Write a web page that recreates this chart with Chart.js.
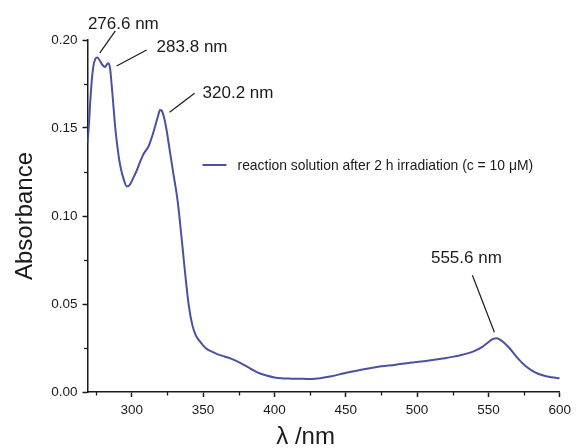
<!DOCTYPE html>
<html>
<head>
<meta charset="utf-8">
<script src="https://cdn.jsdelivr.net/npm/chart.js@4/dist/chart.umd.min.js"></script>
<style>
  html, body { margin: 0; padding: 0; background: #fff; }
  #wrap { width: 576px; height: 448px; }
</style>
</head>
<body>
<div id="wrap"><canvas id="c" width="576" height="448"></canvas></div>
<script>
// ---- data ----
const wavelengths = [269, 270, 271.5, 273, 274.5, 275.8, 277.5, 279.5, 281.4, 282.6, 283.6, 284.8, 286.2, 288.6, 290.5, 292.1, 294.5, 296.6, 298.5, 301, 303.6, 306, 308.5, 311.7, 314, 316.4, 318.5, 319.8, 321, 322.5, 324.4, 326.5, 329.1, 332.1, 333.5, 336, 338, 340, 342.5, 345, 347.5, 350, 352.5, 356, 360, 365, 370, 375, 380, 385, 390, 395, 400, 405, 410, 415, 420, 426, 432, 440, 449, 460, 472, 485, 495, 505, 518, 530, 540, 546, 550, 553, 555.6, 558, 561, 565, 570, 576, 582, 588, 594, 600];
const absorbance = [0.1415, 0.152, 0.172, 0.1845, 0.1893, 0.190, 0.1885, 0.1858, 0.1847, 0.1862, 0.1868, 0.184, 0.172, 0.149, 0.136, 0.128, 0.1205, 0.1167, 0.1175, 0.1215, 0.126, 0.131, 0.1355, 0.1395, 0.1445, 0.151, 0.157, 0.1602, 0.1598, 0.1565, 0.149, 0.138, 0.1245, 0.109, 0.099, 0.079, 0.063, 0.049, 0.038, 0.032, 0.029, 0.0265, 0.0245, 0.023, 0.0215, 0.0202, 0.0188, 0.017, 0.0148, 0.0125, 0.0105, 0.0092, 0.0083, 0.0078, 0.0076, 0.0075, 0.0075, 0.0074, 0.0078, 0.0089, 0.0107, 0.0125, 0.0142, 0.0155, 0.0166, 0.0175, 0.019, 0.0208, 0.0232, 0.0258, 0.0283, 0.0300, 0.0305, 0.0298, 0.028, 0.0247, 0.0197, 0.0148, 0.0115, 0.0095, 0.0084, 0.0078];
const peakWavelengths = [276.6, 283.8, 320.2, 555.6];
const peakLabels = ['276.6 nm', '283.8 nm', '320.2 nm', '555.6 nm'];
const seriesLabel = 'reaction solution after 2 h irradiation (c = 10 \u03bcM)';
const xTitle = '\u03bb /nm';
const yTitle = 'Absorbance';

const FONT = '"Liberation Sans", Arial, sans-serif';
const INK = '#1a1a1a';
const LINE = '#4b50a3';

function interp(x) {
  for (let i = 0; i < wavelengths.length - 1; i++) {
    if (x >= wavelengths[i] && x <= wavelengths[i + 1]) {
      const t = (x - wavelengths[i]) / (wavelengths[i + 1] - wavelengths[i]);
      return absorbance[i] + t * (absorbance[i + 1] - absorbance[i]);
    }
  }
  return absorbance[absorbance.length - 1];
}

// annotation layout: [lineStartDx, lineStartDy, lineEndDx, lineEndDy, textX-offset, textY-offset, align]
const annLayout = [
  [1.5, -6, 17, -28, 25, -35, 'center'],
  [8, 2, 38, -14, 48, -17, 'left'],
  [9, 2, 34, -17, 42, -17, 'left'],
  [-2, -6, -24, -63, -30, -80, 'center']
];

const decor = {
  id: 'decor',
  afterDatasetsDraw(chart) {
    const ctx = chart.ctx;
    const xs = chart.scales.x, ys = chart.scales.y;
    const ca = chart.chartArea;
    ctx.save();
    // minor ticks
    ctx.strokeStyle = INK;
    ctx.lineWidth = 1.3;
    const bottom = ys.getPixelForValue(0);
    const left = xs.getPixelForValue(xs.min);
    xs.ticks.forEach(t => {
      if (Math.round(t.value) % 50 !== 0) {
        const px = Math.round(xs.getPixelForValue(t.value)) + 0.5;
        ctx.beginPath(); ctx.moveTo(px, bottom); ctx.lineTo(px, bottom + 3.5); ctx.stroke();
      }
    });
    ys.ticks.forEach(t => {
      if (Math.round(t.value * 1000) % 50 !== 0) {
        const py = Math.round(ys.getPixelForValue(t.value)) + 0.5;
        ctx.beginPath(); ctx.moveTo(left, py); ctx.lineTo(left - 3.5, py); ctx.stroke();
      }
    });
    // peak annotations
    ctx.font = '17px ' + FONT;
    ctx.fillStyle = INK;
    ctx.textBaseline = 'middle';
    ctx.lineWidth = 1.2;
    peakWavelengths.forEach((w, i) => {
      const px = xs.getPixelForValue(w), py = ys.getPixelForValue(interp(w));
      const L = annLayout[i];
      ctx.beginPath();
      ctx.moveTo(px + L[0], py + L[1]);
      ctx.lineTo(px + L[2], py + L[3]);
      ctx.stroke();
      ctx.textAlign = L[6];
      ctx.fillText(peakLabels[i], px + L[4], py + L[5]);
    });
    // legend
    const ds = chart.data.datasets[0];
    const lx = ca.left + 115, ly = ca.top + 125;
    ctx.strokeStyle = ds.borderColor;
    ctx.lineWidth = 2;
    ctx.beginPath(); ctx.moveTo(lx, ly); ctx.lineTo(lx + 24, ly); ctx.stroke();
    ctx.font = '13.9px ' + FONT;
    ctx.textAlign = 'left';
    ctx.fillStyle = INK;
    ctx.fillText(ds.label, lx + 35, ly + 1);
    // x axis title (slightly left of centre, as in the reference)
    ctx.font = '24px ' + FONT;
    ctx.textAlign = 'center';
    ctx.textBaseline = 'alphabetic';
    ctx.fillText(xTitle, (ca.left + ca.right) / 2 - 18, chart.height - 4);
    ctx.restore();
  }
};

new Chart(document.getElementById('c'), {
  type: 'line',
  data: {
    datasets: [{
      label: seriesLabel,
      data: wavelengths.map((w, i) => ({ x: w, y: absorbance[i] })),
      borderColor: LINE,
      borderWidth: 2,
      pointRadius: 0,
      fill: false,
      cubicInterpolationMode: 'monotone'
    }]
  },
  options: {
    responsive: false,
    animation: false,
    devicePixelRatio: 1,
    layout: { padding: { left: 0, top: 40, right: 12, bottom: 0 } },
    plugins: { legend: { display: false }, tooltip: { enabled: false } },
    scales: {
      x: {
        type: 'linear',
        min: 269, max: 600,
        afterFit(s) { s.height = 56; },
        afterBuildTicks(s) {
          const t = [];
          for (let v = 275; v <= 600; v += 25) t.push({ value: v });
          s.ticks = t;
        },
        border: { display: true, color: INK, width: 1.5 },
        grid: {
          drawOnChartArea: false, drawTicks: true, tickLength: 5, tickWidth: 1.5,
          tickColor: c => (c.tick && Math.round(c.tick.value) % 50 === 0) ? INK : 'rgba(0,0,0,0)'
        },
        ticks: {
          autoSkip: false, maxRotation: 0, padding: 5,
          color: INK, font: { family: FONT, size: 13.5 },
          callback: v => (Math.round(v) % 50 === 0 ? String(v) : '')
        },
        title: { display: false, text: xTitle }
      },
      y: {
        type: 'linear',
        min: 0, max: 0.2,
        afterFit(s) { s.width = 87.5; },
        afterBuildTicks(s) {
          const t = [];
          for (let i = 0; i <= 8; i++) t.push({ value: i * 0.025 });
          s.ticks = t;
        },
        border: { display: true, color: INK, width: 1.5 },
        grid: {
          drawOnChartArea: false, drawTicks: true, tickLength: 5, tickWidth: 1.5,
          tickColor: c => (c.tick && Math.round(c.tick.value * 1000) % 50 === 0) ? INK : 'rgba(0,0,0,0)'
        },
        ticks: {
          autoSkip: false, padding: 5,
          color: INK, font: { family: FONT, size: 13.5 },
          callback: v => (Math.round(v * 1000) % 50 === 0 ? v.toFixed(2) : '')
        },
        title: { display: true, text: yTitle, color: INK, font: { family: FONT, size: 24 }, padding: { top: 11, bottom: 0 } }
      }
    }
  },
  plugins: [decor]
});
</script>
</body>
</html>
